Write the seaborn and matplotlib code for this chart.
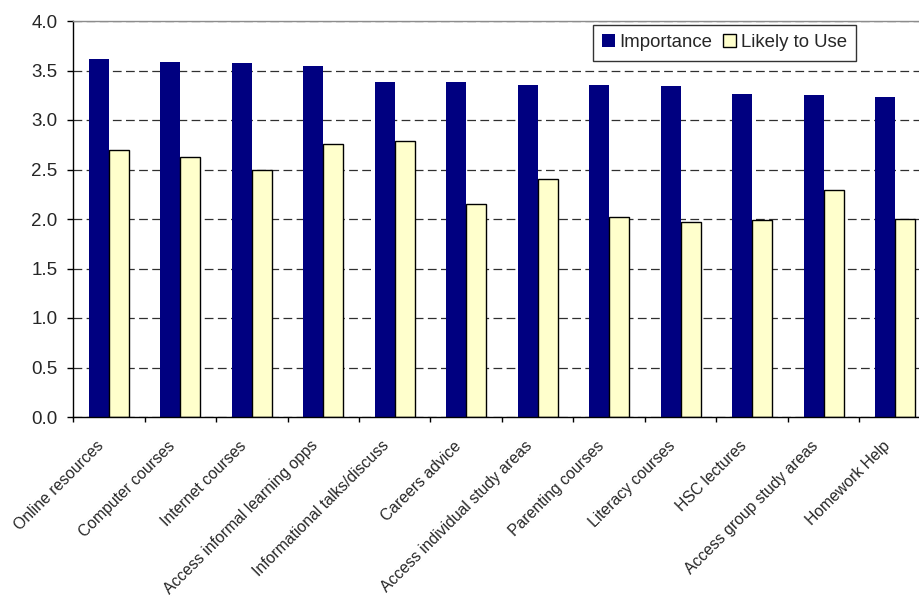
import matplotlib
matplotlib.use("Agg")
import matplotlib.pyplot as plt
from matplotlib.patches import Patch
import numpy as np
import pandas as pd
import seaborn as sns

# Survey results: mean ratings per service
categories = [
    "Online resources", "Computer courses", "Internet courses",
    "Access informal learning opps", "Informational talks/discuss",
    "Careers advice", "Access individual study areas", "Parenting courses",
    "Literacy courses", "HSC lectures", "Access group study areas",
    "Homework Help",
]
importance = [3.62, 3.59, 3.58, 3.55, 3.38, 3.38, 3.35, 3.35, 3.34, 3.26, 3.25, 3.23]
likely_to_use = [2.70, 2.63, 2.50, 2.76, 2.79, 2.15, 2.40, 2.02, 1.97, 1.99, 2.29, 2.00]
series_names = ["Importance", "Likely to Use"]
series_colors = ["#000080", "#FFFFCC"]
y_ticks = [0.0, 0.5, 1.0, 1.5, 2.0, 2.5, 3.0, 3.5, 4.0]

df = pd.DataFrame({
    "Service": categories * 2,
    "Series": [series_names[0]] * len(categories) + [series_names[1]] * len(categories),
    "Rating": importance + likely_to_use,
})

sns.set_theme(style="white")
plt.rcParams["font.family"] = ["Liberation Sans", "DejaVu Sans"]

W, H = 919, 598
fig = plt.figure(figsize=(W / 100, H / 100), dpi=100)
left, right, top, bottom = 73, 931, 21, 417
ax = fig.add_axes([left / W, (H - bottom) / H, (right - left) / W, (bottom - top) / H])

sns.barplot(
    data=df, x="Service", y="Rating", hue="Series",
    order=categories, hue_order=series_names,
    palette=series_colors, width=0.56, gap=0, saturation=1,
    legend=False, ax=ax,
)

# Bar outlines: solid navy bars, black-edged pale bars
for container, name in zip(ax.containers, series_names):
    for bar in container:
        if name == "Importance":
            bar.set_edgecolor("none")
        else:
            bar.set_edgecolor("black")
            bar.set_linewidth(1.0)

ax.set_ylim(0, 4.0)
ax.set_xlim(-0.5, len(categories) - 0.5)
ax.set_yticks(y_ticks)
ax.set_yticklabels([f"{v:.1f}" for v in y_ticks], fontsize=13.5)
ax.set_xlabel("")
ax.set_ylabel("")

# Category labels under each group (slightly left of centre), ticks on group boundaries
n = len(categories)
ax.set_xticks(np.arange(n + 1) - 0.5)
ax.set_xticklabels([])
ax.set_xticks(np.arange(n) - 0.11, minor=True)
ax.set_xticklabels(categories, minor=True, rotation=45, ha="right",
                   va="center", rotation_mode="anchor", fontsize=11.3)
ax.tick_params(axis="x", which="major", direction="out", length=3.6,
               width=1.0, color="black", bottom=True)
ax.tick_params(axis="x", which="minor", length=0, pad=19, bottom=True)
ax.tick_params(axis="y", direction="out", length=4.3, width=1.0,
               color="black", pad=7, left=True)

# Dashed horizontal gridlines
ax.set_axisbelow(True)
ax.yaxis.grid(True, color="#303030", linestyle=(0, (7, 3.5)), linewidth=0.9)
ax.xaxis.grid(False)

for side in ["left", "bottom"]:
    ax.spines[side].set_color("black")
    ax.spines[side].set_linewidth(1.0)
ax.spines["top"].set_color("#8c8c8c")
ax.spines["top"].set_linewidth(1.0)
ax.spines["right"].set_visible(False)

handles = [
    Patch(facecolor=series_colors[0], edgecolor="none", label=series_names[0]),
    Patch(facecolor=series_colors[1], edgecolor="black", linewidth=1.0, label=series_names[1]),
]
leg = ax.legend(
    handles=handles, ncol=2, loc="upper right",
    bbox_to_anchor=(856 / W, (H - 25) / H), bbox_transform=fig.transFigure,
    borderaxespad=0, fontsize=13.4, frameon=True, fancybox=False,
    handlelength=0.7, handleheight=0.7, handletextpad=0.25,
    columnspacing=0.55, borderpad=0.5,
)
leg.get_frame().set_edgecolor("black")
leg.get_frame().set_linewidth(1.0)
leg.get_frame().set_facecolor("white")

fig.savefig("out.png", dpi=100)
